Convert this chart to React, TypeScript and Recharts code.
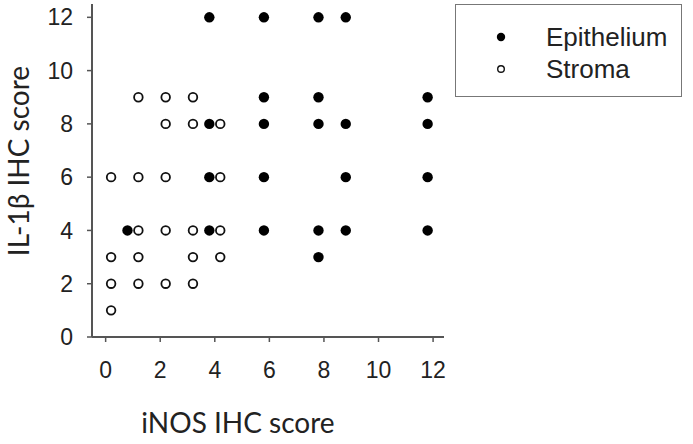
import React from "react";
import { ScatterChart, Scatter, XAxis, YAxis } from "recharts";

// iNOS score (x, jittered as in the figure) and IL-1β score (y)
const epitheliumX = [0.8, 3.8, 3.8, 3.8, 3.8, 5.8, 5.8, 5.8, 5.8, 5.8, 7.8, 7.8, 7.8, 7.8, 7.8, 8.8, 8.8, 8.8, 8.8, 11.8, 11.8, 11.8, 11.8];
const epitheliumY = [4, 12, 8, 6, 4, 12, 9, 8, 6, 4, 12, 9, 8, 4, 3, 12, 8, 6, 4, 9, 8, 6, 4];

const stromaX = [0.2, 1.2, 2.2, 3.2, 2.2, 3.2, 4.2, 1.2, 2.2, 4.2, 1.2, 2.2, 3.2, 4.2, 0.2, 1.2, 3.2, 4.2, 0.2, 1.2, 2.2, 3.2, 0.2];
const stromaY = [6, 9, 9, 9, 8, 8, 8, 6, 6, 6, 4, 4, 4, 4, 3, 3, 3, 3, 2, 2, 2, 2, 1];

const xTicks = [0, 2, 4, 6, 8, 10, 12];
const yTicks = [0, 2, 4, 6, 8, 10, 12];

const epithelium = epitheliumX.map((x, i) => ({ x, y: epitheliumY[i] }));
const stroma = stromaX.map((x, i) => ({ x, y: stromaY[i] }));

const AXIS = "#555";
const TICK_FONT = { fill: "#222", fontSize: 23, fontFamily: "'Liberation Sans', Arial, sans-serif" };
const TITLE_FONT = "Lato, 'Open Sans', sans-serif";

const FilledDot = (props: any) => <circle cx={props.cx} cy={props.cy} r={5.2} fill="#000" />;
const OpenDot = (props: any) => (
  <circle cx={props.cx} cy={props.cy} r={4.3} fill="#fff" stroke="#111" strokeWidth={1.8} />
);

function LegendBox() {
  const row = (label: string, filled: boolean, top: number) => (
    <div style={{ position: "absolute", left: 0, top, height: 0 }}>
      <svg width={12} height={12} style={{ position: "absolute", left: 39, top: -6 }}>
        {filled ? (
          <circle cx={6} cy={6} r={4.2} fill="#000" />
        ) : (
          <circle cx={6} cy={6} r={3.3} fill="#fff" stroke="#111" strokeWidth={1.4} />
        )}
      </svg>
      <span
        style={{
          position: "absolute",
          left: 90,
          top: -15,
          fontSize: 26,
          lineHeight: "30px",
          whiteSpace: "nowrap",
          color: "#222",
          fontFamily: "'Liberation Sans', Arial, sans-serif",
        }}
      >
        {label}
      </span>
    </div>
  );
  return (
    <div
      style={{
        position: "absolute",
        left: 455,
        top: 4,
        width: 227,
        height: 93,
        border: "1.5px solid #777",
        boxSizing: "border-box",
        background: "#fff",
      }}
    >
      {row("Epithelium", true, 32)}
      {row("Stroma", false, 64)}
    </div>
  );
}

export default function App() {
  return (
    <div style={{ position: "absolute", left: 0, top: 0, width: 693, height: 444, background: "#fff" }}>
      <ScatterChart width={693} height={444} margin={{ top: 4, right: 249, bottom: 0, left: 0 }}>
        <XAxis
          type="number"
          dataKey="x"
          domain={[-0.5, 12.4]}
          ticks={xTicks}
          allowDataOverflow
          height={107}
          axisLine={{ stroke: AXIS, strokeWidth: 2 }}
          tickLine={{ stroke: AXIS, strokeWidth: 1.5 }}
          tickSize={5}
          tickMargin={20}
          tick={TICK_FONT}
          label={{
            content: () => (
              <text x={238} y={433} textAnchor="middle" fontSize={28} fill="#222" fontFamily={TITLE_FONT}>
                iNOS IHC score
              </text>
            ),
          }}
        />
        <XAxis
          xAxisId="top"
          orientation="top"
          type="number"
          domain={[-0.5, 12.4]}
          height={0}
          tick={false}
          tickLine={false}
          axisLine={{ stroke: AXIS, strokeWidth: 2 }}
        />
        <YAxis
          type="number"
          dataKey="y"
          domain={[0, 12.5]}
          ticks={yTicks}
          allowDataOverflow
          width={92}
          axisLine={{ stroke: AXIS, strokeWidth: 2 }}
          tickLine={{ stroke: AXIS, strokeWidth: 1.5 }}
          tickSize={5}
          tickMargin={14}
          tick={TICK_FONT}
          label={{
            content: () => (
              <text
                x={29}
                y={161}
                transform="rotate(-90 29 161)"
                textAnchor="middle"
                fontSize={28}
                fill="#222"
                fontFamily={TITLE_FONT}
              >
                IL-1β IHC score
              </text>
            ),
          }}
        />
        <YAxis
          yAxisId="right"
          orientation="right"
          type="number"
          domain={[0, 12.5]}
          width={0}
          tick={false}
          tickLine={false}
          axisLine={{ stroke: AXIS, strokeWidth: 2 }}
        />
        <Scatter name="Epithelium" data={epithelium} shape={FilledDot} isAnimationActive={false} />
        <Scatter name="Stroma" data={stroma} shape={OpenDot} isAnimationActive={false} />
      </ScatterChart>
      <LegendBox />
    </div>
  );
}
